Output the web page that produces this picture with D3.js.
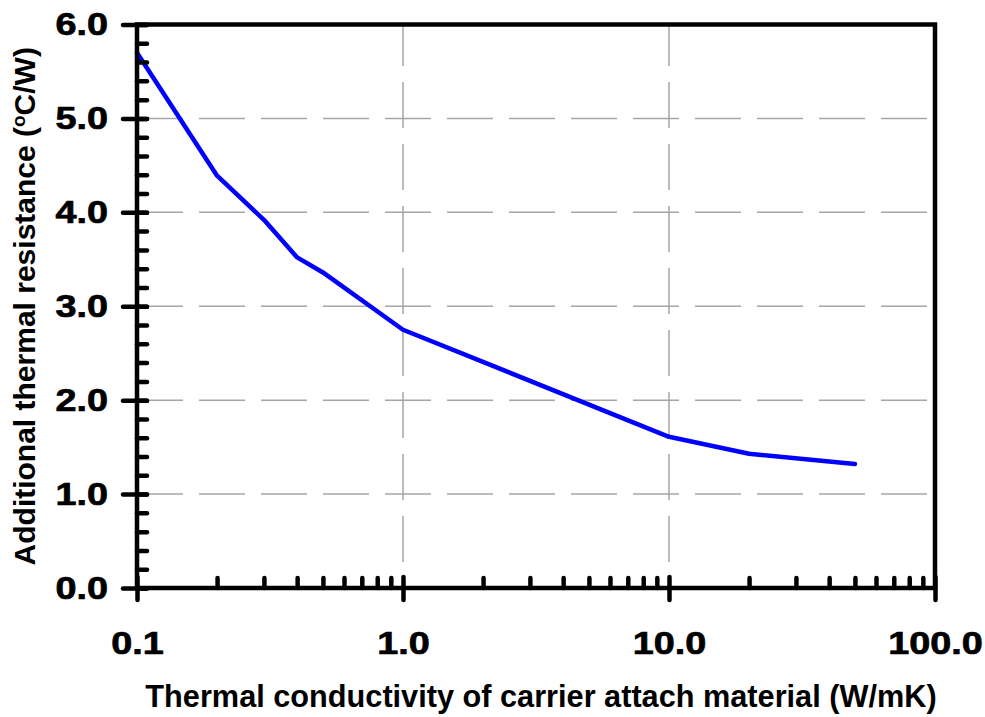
<!DOCTYPE html>
<html>
<head>
<meta charset="utf-8">
<script src="https://cdn.jsdelivr.net/npm/d3@7"></script>
<style>
  body { margin: 0; background: #fff; }
  text { font-family: "Liberation Sans", Arial, sans-serif; font-weight: bold; }
</style>
</head>
<body>
<div id="chart"></div>
<script>
// data
var conductivity = [0.1, 0.2, 0.3, 0.4, 0.5, 1.0, 10.0, 20.0, 50.0];
var resistance = [5.70, 4.39, 3.92, 3.52, 3.36, 2.75, 1.61, 1.43, 1.32];
var xTicks = [0.1, 1, 10, 100];
var xTickLabels = ["0.1", "1.0", "10.0", "100.0"];
var yTicks = [0, 1, 2, 3, 4, 5, 6];
var yMinor = d3.range(0, 6.01, 0.2);

var margin = { top: 24.5, right: 50, bottom: 129, left: 137 },
    width = 985 - margin.left - margin.right,
    height = 717 - margin.top - margin.bottom;

var svg = d3.select("#chart")
    .append("svg")
    .attr("width", 985)
    .attr("height", 717);

var g = svg.append("g")
    .attr("transform", "translate(" + margin.left + "," + margin.top + ")");

var x = d3.scaleLog()
    .domain([0.1, 100])
    .range([0, width]);

var y = d3.scaleLinear()
    .domain([0, 6])
    .range([height, 0]);

// x minor ticks (2..9 of each decade)
var xMinor = [];
[0.1, 1, 10].forEach(function(d) {
    for (var i = 2; i <= 9; i++) xMinor.push(d * i);
});

// grid
g.append("g")
    .selectAll("line")
    .data(yTicks.slice(1))
    .enter()
    .append("line")
    .attr("x1", 0)
    .attr("x2", width)
    .attr("y1", function(d) { return y(d); })
    .attr("y2", function(d) { return y(d); })
    .attr("stroke", "#a6a6a6")
    .attr("stroke-width", 1.5)
    .attr("stroke-dasharray", "46,16");

g.append("g")
    .selectAll("line")
    .data([1, 10])
    .enter()
    .append("line")
    .attr("x1", function(d) { return x(d); })
    .attr("x2", function(d) { return x(d); })
    .attr("y1", height)
    .attr("y2", 0)
    .attr("stroke", "#a6a6a6")
    .attr("stroke-width", 1.5)
    .attr("stroke-dasharray", "46,16")
    .attr("stroke-dashoffset", 36);

// curve
var line = d3.line()
    .x(function(d, i) { return x(conductivity[i]); })
    .y(function(d) { return y(d); });

g.append("path")
    .datum(resistance)
    .attr("d", line)
    .attr("fill", "none")
    .attr("stroke", "#0000ff")
    .attr("stroke-width", 4.5)
    .attr("stroke-linejoin", "round")
    .attr("stroke-linecap", "round");

// frame
g.append("rect")
    .attr("x", 0)
    .attr("y", 0)
    .attr("width", width)
    .attr("height", height)
    .attr("fill", "none")
    .attr("stroke", "#000")
    .attr("stroke-width", 4.5);

// y axis
var yAxis = g.append("g")
    .call(d3.axisLeft(y)
        .tickValues(yTicks)
        .tickSize(14)
        .tickPadding(15)
        .tickFormat(d3.format(".1f")));

var yMinorAxis = g.append("g")
    .call(d3.axisRight(y)
        .tickValues(yMinor)
        .tickSize(10)
        .tickFormat(""));

// x axis
var xAxis = g.append("g")
    .attr("transform", "translate(0," + height + ")")
    .call(d3.axisBottom(x)
        .tickValues(xTicks)
        .tickSize(12)
        .tickPadding(32)
        .tickFormat(function(d, i) { return xTickLabels[i]; }));

var xMinorAxis = g.append("g")
    .attr("transform", "translate(0," + height + ")")
    .call(d3.axisTop(x)
        .tickValues(xMinor)
        .tickSize(10)
        .tickFormat(""));

yAxis.selectAll(".tick line").attr("x2", -14).attr("x1", 10);
xAxis.selectAll(".tick line").attr("y2", 12).attr("y1", -11);

[yAxis, yMinorAxis, xAxis, xMinorAxis].forEach(function(a) {
    a.select(".domain").remove();
    a.selectAll(".tick line")
        .attr("stroke", "#000")
        .attr("stroke-width", 4.5)
        .attr("stroke-linecap", "round");
    a.selectAll("text")
        .attr("fill", "#000")
        .attr("stroke", "#000")
        .attr("stroke-width", 0.7)
        .style("font-size", "31.5px")
        .style("font-family", "'Liberation Sans', Arial, sans-serif")
        .style("font-weight", "bold");
});

// the tick labels in the picture are drawn wider than plain Arial:
// stretch them horizontally around their anchor point
var stretch = 1.2;
yAxis.selectAll(".tick text").each(function() {
    var t = d3.select(this);
    var tx = +t.attr("x");
    t.attr("x", 0).attr("transform", "translate(" + tx + ",0) scale(" + stretch + ",1)");
});
xAxis.selectAll(".tick text").attr("transform", "scale(" + stretch + ",1)");

// titles
svg.append("text")
    .attr("x", 541)
    .attr("y", 707)
    .attr("text-anchor", "middle")
    .style("font-size", "30.7px")
    .text("Thermal conductivity of carrier attach material (W/mK)");

var yTitle = svg.append("text")
    .attr("transform", "translate(35," + (margin.top + height / 2) + ") rotate(-90)")
    .attr("text-anchor", "middle")
    .style("font-size", "30px");
yTitle.append("tspan").text("Additional thermal resistance (");
yTitle.append("tspan").attr("dy", -10).style("font-size", "19px").text("o");
yTitle.append("tspan").attr("dy", 10).text("C/W)");
</script>
</body>
</html>
